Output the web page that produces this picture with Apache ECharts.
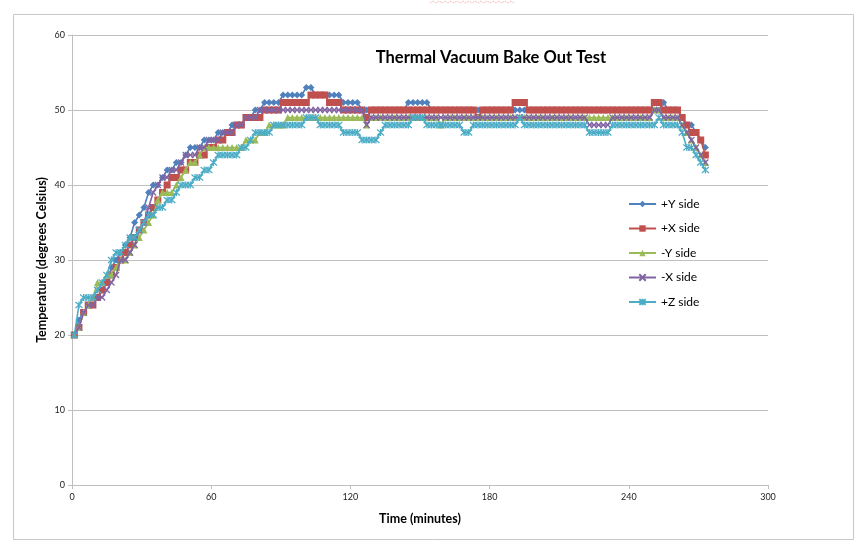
<!DOCTYPE html>
<html>
<head>
<meta charset="utf-8">
<script src="https://cdn.jsdelivr.net/npm/echarts@6/dist/echarts.min.js"></script>
<style>
html,body{margin:0;padding:0;background:#fff;}
#chart{width:861px;height:551px;}
</style>
</head>
<body>
<div id="chart"></div>
<script>
// Time (minutes)
const times = [
  1,3,5,7,9,11,13,15,17,19,
  21,23,25,27,29,31,33,35,37,39,
  41,43,45,47,49,51,53,55,57,59,
  61,63,65,67,69,71,73,75,77,79,
  81,83,85,87,89,91,93,95,97,99,
  101,103,105,107,109,111,113,115,117,119,
  121,123,125,127,129,131,133,135,137,139,
  141,143,145,147,149,151,153,155,157,159,
  161,163,165,167,169,171,173,175,177,179,
  181,183,185,187,189,191,193,195,197,199,
  201,203,205,207,209,211,213,215,217,219,
  221,223,225,227,229,231,233,235,237,239,
  241,243,245,247,249,251,253,255,257,259,
  261,263,265,267,269,271,273
];
const plusY = [
  20,22,23,24,24,25,26,27,29,30,
  31,32,33,35,36,37,39,40,40,41,
  42,42,43,43,44,45,45,45,46,46,
  46,47,47,47,48,48,48,49,49,50,
  50,51,51,51,51,52,52,52,52,52,
  53,53,52,52,52,52,52,52,51,51,
  51,51,50,50,50,50,50,50,50,50,
  50,50,51,51,51,51,51,50,50,50,
  50,50,50,50,50,50,50,50,50,50,
  50,50,50,50,50,50,50,50,50,50,
  50,50,50,50,50,50,50,50,50,50,
  50,50,50,50,50,50,50,50,50,50,
  50,50,50,50,50,50,50,51,50,50,
  50,49,48,48,47,46,45
];
const plusX = [
  20,21,23,24,24,25,26,27,28,29,
  30,31,32,33,34,35,36,37,38,39,
  40,41,41,42,42,43,43,44,44,45,
  45,46,46,47,47,48,48,49,49,49,
  49,50,50,50,50,51,51,51,51,51,
  51,52,52,52,52,51,51,51,50,50,
  50,50,50,49,50,50,50,50,50,50,
  50,50,50,50,50,50,50,50,50,50,
  50,50,50,50,50,50,50,49,50,50,
  50,50,50,50,50,51,51,51,50,50,
  50,50,50,50,50,50,50,50,50,50,
  50,50,50,50,50,50,50,50,50,50,
  50,50,50,50,50,51,51,50,50,50,
  50,49,48,47,47,46,44
];
const minusY = [
  20,21,23,24,25,27,27,28,28,29,
  30,30,31,32,33,34,35,36,38,39,
  39,39,40,41,42,43,43,44,45,45,
  45,45,45,45,45,45,45,46,46,46,
  47,47,48,48,48,48,49,49,49,49,
  49,49,49,49,49,49,49,49,49,49,
  49,49,49,48,49,49,49,49,49,49,
  49,49,49,49,49,49,49,49,49,48,
  49,49,49,49,49,49,49,49,49,49,
  49,49,49,49,49,49,49,49,49,49,
  49,49,49,49,49,49,49,49,49,49,
  49,49,49,49,49,49,49,49,49,49,
  49,49,49,49,49,50,50,49,49,49,
  49,48,47,46,45,44,43
];
const minusX = [
  20,21,23,24,24,25,25,26,27,28,
  30,30,31,32,34,35,37,39,40,41,
  41,42,42,43,44,44,44,45,45,46,
  46,46,47,47,47,48,48,49,49,49,
  50,50,50,50,50,50,50,50,50,50,
  50,50,50,50,50,50,50,50,50,50,
  50,50,50,48,49,49,49,49,49,49,
  49,49,49,49,49,49,49,49,49,49,
  49,49,49,49,49,49,49,49,49,49,
  49,49,49,49,49,49,49,49,49,49,
  49,49,49,49,49,49,49,49,49,49,
  49,48,48,48,48,48,49,49,49,49,
  49,49,49,49,49,50,50,49,49,49,
  49,48,47,46,45,44,43
];
const plusZ = [
  20,24,25,25,25,26,27,28,30,31,
  31,32,33,33,34,35,36,36,37,37,
  38,38,39,40,40,40,41,41,42,42,
  43,44,44,44,44,44,45,45,46,47,
  47,47,47,48,48,48,48,48,48,48,
  49,49,49,48,48,48,48,48,47,47,
  47,47,46,46,46,46,47,48,48,48,
  48,48,48,49,49,49,48,48,48,48,
  48,48,48,48,47,47,48,48,48,48,
  48,48,48,48,48,48,49,48,48,48,
  48,48,48,48,48,48,48,48,48,48,
  48,47,47,47,47,47,48,48,48,48,
  48,48,48,48,48,48,49,48,48,48,
  48,47,45,45,44,43,42
];
const seriesNames = ['+Y side','+X side','-Y side','-X side','+Z side'];
const seriesColors = ['#4F81BD','#C0504D','#9BBB59','#8064A2','#4BACC6'];
const xTicks = {min:0, max:300, interval:60};
const yTicks = {min:0, max:60, interval:10};

const FONT = 'Lato, "Open Sans", sans-serif';
const allData = [plusY, plusX, minusY, minusX, plusZ];
const symbols = [
  {symbol:'diamond', size:7},
  {symbol:'rect', size:7},
  {symbol:'triangle', size:7},
  {symbol:'path://M0,0L10,10M10,0L0,10', size:6},
  {symbol:'path://M0,0L10,10M10,0L0,10M5,-1L5,11', size:7}
];

const chart = echarts.init(document.getElementById('chart'), null, {renderer:'canvas'});
const series = allData.map((arr, k) => ({
  name: seriesNames[k],
  type: 'line',
  data: times.map((t, i) => [t, arr[i]]),
  symbol: symbols[k].symbol,
  symbolSize: symbols[k].size,
  showSymbol: true,
  showAllSymbol: true,
  color: seriesColors[k],
  lineStyle: {width: 1.6, color: seriesColors[k]},
  itemStyle: (k >= 3) ? {color: seriesColors[k], borderColor: seriesColors[k], borderWidth: 1.2}
                      : {color: seriesColors[k]},
  emphasis: {disabled: true},
  z: 2 + k
}));

const squiggle = [];
for (let x = 430; x <= 515; x += 3) squiggle.push([x, (x / 3) % 2 < 1 ? 1 : 3]);

chart.setOption({
  animation: false,
  backgroundColor: '#ffffff',
  textStyle: {fontFamily: FONT},
  title: {
    text: 'Thermal Vacuum Bake Out Test',
    left: 486, top: 44, textAlign: 'center',
    textStyle: {fontFamily: FONT, fontSize: 16.5, fontWeight: 'bold', color: '#000'}
  },
  legend: {
    data: seriesNames,
    orient: 'vertical',
    left: 623, top: 193,
    itemWidth: 27, itemHeight: 8, itemGap: 12.5,
    textStyle: {fontFamily: FONT, fontSize: 12, color: '#000'}
  },
  grid: {left: 72, right: 93, top: 35, bottom: 66, containLabel: false},
  xAxis: {
    type: 'value', min: xTicks.min, max: xTicks.max, interval: xTicks.interval,
    name: 'Time (minutes)', nameLocation: 'middle', nameGap: 27,
    nameTextStyle: {fontFamily: FONT, fontSize: 12.5, fontWeight: 'bold', color: '#000'},
    axisLine: {show: true, lineStyle: {color: '#bfbfbf', width: 1}},
    axisTick: {show: true, length: 4, lineStyle: {color: '#bfbfbf'}},
    axisLabel: {fontFamily: FONT, fontSize: 9, color: '#222', margin: 8},
    splitLine: {show: false}
  },
  yAxis: {
    type: 'value', min: yTicks.min, max: yTicks.max, interval: yTicks.interval,
    name: 'Temperature (degrees Celsius)', nameLocation: 'middle', nameGap: 24,
    nameMoveOverlap: false,
    nameTextStyle: {fontFamily: FONT, fontSize: 12.5, fontWeight: 'bold', color: '#000'},
    axisLine: {show: true, lineStyle: {color: '#bfbfbf', width: 1}},
    axisTick: {show: true, length: 4, lineStyle: {color: '#bfbfbf'}},
    axisLabel: {fontFamily: FONT, fontSize: 9, color: '#222', margin: 7},
    splitLine: {show: true, lineStyle: {color: '#bfbfbf', width: 1}}
  },
  graphic: [
    {type: 'rect', left: 11, top: 12, shape: {width: 840, height: 525},
     style: {fill: 'none', stroke: '#c8c8c8', lineWidth: 1}, silent: true, z: -1},
    {type: 'polyline', shape: {points: squiggle},
     style: {stroke: '#f2a0a0', lineWidth: 1, fill: 'none', lineDash: [1, 1]}, silent: true}
  ],
  series: series
});
</script>
</body>
</html>
